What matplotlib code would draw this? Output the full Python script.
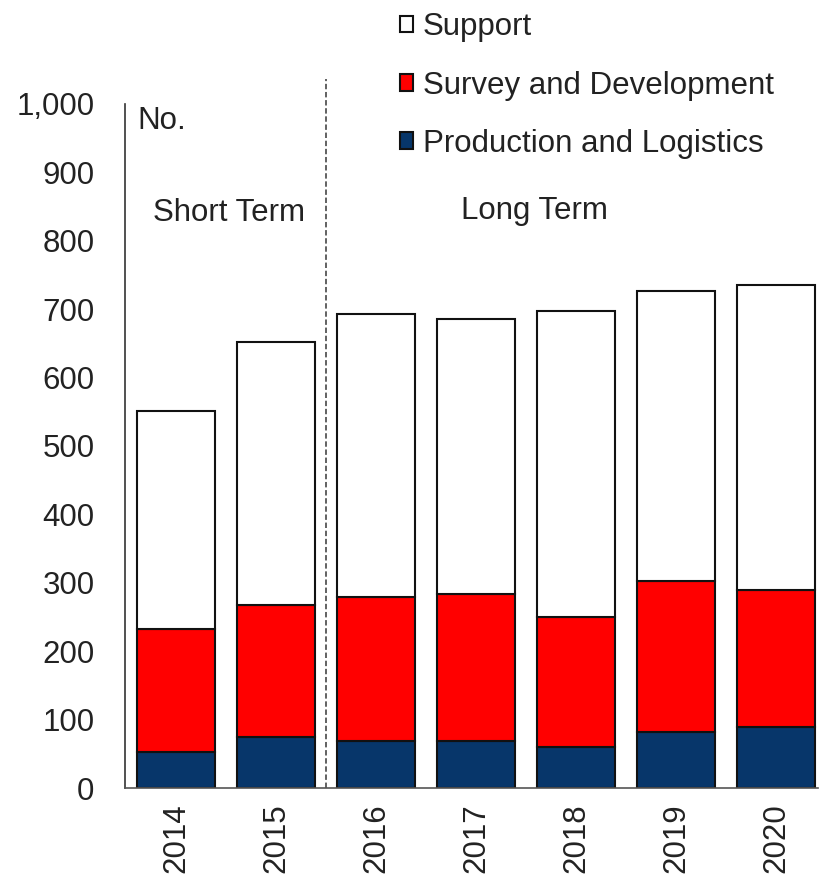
import matplotlib
matplotlib.use("Agg")
import matplotlib.pyplot as plt
import numpy as np

years = ["2014", "2015", "2016", "2017", "2018", "2019", "2020"]
production = [53, 74, 68, 68, 60, 82, 89]
survey_top = [232, 267, 279, 283, 250, 303, 290]
total = [551, 652, 693, 685, 697, 727, 735]
survey = [s - p for s, p in zip(survey_top, production)]
support = [t - s for t, s in zip(total, survey_top)]

plt.rcParams['font.family'] = ['Liberation Sans', 'DejaVu Sans']

fig = plt.figure(figsize=(8.23, 8.88), dpi=100)
ax = fig.add_axes([0.152, 0.1126, 0.842, 0.7703])

x = np.arange(len(years))
w = 0.78
ec = "#111111"
lw = 1.5
b1 = ax.bar(x, production, w, color="#07366a", edgecolor=ec, linewidth=lw, label="Production and Logistics")
b2 = ax.bar(x, survey, w, bottom=production, color="#ff0000", edgecolor=ec, linewidth=lw, label="Survey and Development")
b3 = ax.bar(x, support, w, bottom=survey_top, color="white", edgecolor=ec, linewidth=lw, label="Support")

fs = 22.5
ax.set_xlim(-0.51, 6.42)
ax.set_ylim(0, 1000)
ax.set_yticks(np.arange(0, 1001, 100))
ax.set_yticklabels([f"{v:,}" for v in range(0, 1001, 100)], fontsize=fs, color="#222222")
ax.set_xticks(x)
ax.set_xticklabels(years, rotation=90, fontsize=fs, color="#222222")
ax.tick_params(length=0)
ax.tick_params(axis='x', pad=11)
ax.tick_params(axis='y', pad=22)
for s in ["top", "right"]:
    ax.spines[s].set_visible(False)
ax.spines["left"].set_color("#333333")
ax.spines["bottom"].set_color("#555555")
ax.spines["left"].set_linewidth(1.2)
ax.spines["bottom"].set_linewidth(1.2)

ax.plot([1.5, 1.5], [0, 1037], ls=(0, (3, 1.5)), color="#555555", lw=1.3, clip_on=False)

ax.text(-0.39, 975, "No.", fontsize=fs, va="center", ha="left", color="#222222")
ax.text(0.53, 840, "Short Term", fontsize=fs, va="center", ha="center", color="#222222")
ax.text(3.58, 843, "Long Term", fontsize=fs, va="center", ha="center", color="#222222")

leg = fig.legend(handles=[b3, b2, b1], loc="upper left", bbox_to_anchor=(0.471, 1.0),
                 fontsize=fs, frameon=False, handlelength=0.42, handleheight=0.42,
                 handletextpad=0.3, labelspacing=0.9, borderaxespad=0)
for t in leg.get_texts():
    t.set_color("#222222")

fig.savefig("out.png", dpi=100)
